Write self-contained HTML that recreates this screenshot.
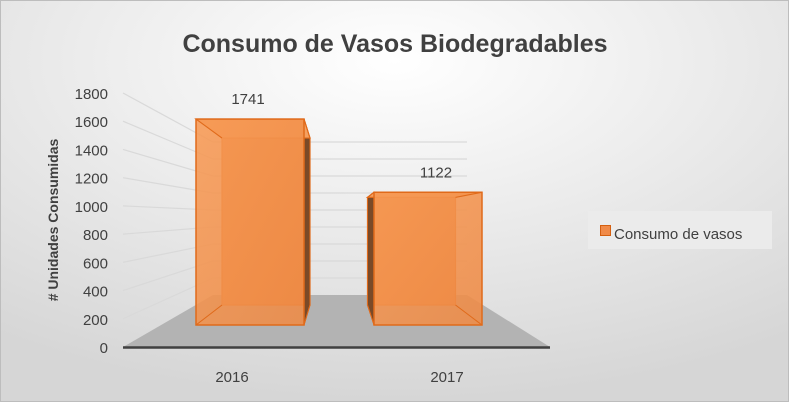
<!DOCTYPE html>
<html><head><meta charset="utf-8"><style>
html,body{margin:0;padding:0;width:789px;height:402px;overflow:hidden}
svg{display:block;font-family:"Liberation Sans",sans-serif}
</style></head><body>
<svg id="chart" width="789" height="402" viewBox="0 0 789 402">
<defs>
<radialGradient id="bg" cx="50%" cy="15%" r="85%">
<stop offset="0" stop-color="#ffffff"/><stop offset="1" stop-color="#d6d6d6"/></radialGradient>
<linearGradient id="front" x1="0" y1="0" x2="1" y2="1">
<stop offset="0" stop-color="#f79a55"/><stop offset="1" stop-color="#ee8a45"/></linearGradient>
</defs>
<rect x="0.5" y="0.5" width="788" height="401" fill="url(#bg)" stroke="#bdbdbd"/>
<text x="395" y="52" text-anchor="middle" font-size="25" font-weight="bold" fill="#404040">Consumo de Vasos Biodegradables</text>
<text transform="translate(58,220) rotate(-90)" text-anchor="middle" font-size="14" font-weight="bold" fill="#404040"># Unidades Consumidas</text>
<polygon points="123,347 213,295 467,295 550,347" fill="#b3b3b3"/>
<g id="grid"></g>
<g id="bars"></g>
<line x1="123" y1="347.5" x2="550" y2="347.5" stroke="#404040" stroke-width="2.5"/>
<g id="labels"></g>
<rect x="588" y="211" width="184" height="38" fill="#ebebeb"/>
<rect x="600.5" y="225.5" width="10" height="10" fill="#f08a48" stroke="#d45f10"/>
<text x="614" y="239" font-size="15" fill="#404040">Consumo de vasos</text>
</svg>
<script>
const categories = ["2016", "2017"];
const values = [1741, 1122];
const tickValues = [0, 200, 400, 600, 800, 1000, 1200, 1400, 1600, 1800];
const NS = "http://www.w3.org/2000/svg";
function mk(tag, attrs, parent){const e=document.createElementNS(NS,tag);for(const k in attrs)e.setAttribute(k,attrs[k]);parent.appendChild(e);return e;}
const yMax = 1800;
// axis functions
const yTick = v => 347 - v/yMax*254;      // left tick position
const yBack = v => 295 - v/yMax*153;      // back wall
const yBarFront = v => 325 - v*0.1183;
const yBarBack = v => 305 - v*0.0959;
const frontCx = i => 250 + i*178;
const backCx = i => 266 + i*145.5;
const grid = document.getElementById('grid');
const labels = document.getElementById('labels');
tickValues.forEach(v=>{
  if(v>0){
    const l1=mk('line',{x1:123,y1:yTick(v),x2:213,y2:yBack(v),stroke:'#d9d9d9','stroke-width':1.2},grid);
    
    
    const l2=mk('line',{x1:213,y1:yBack(v),x2:467,y2:yBack(v),stroke:'#d9d9d9','stroke-width':1.2},grid);
    
    
  }
  const t=mk('text',{x:108,y:yTick(v)+6,'text-anchor':'end','font-size':15,fill:'#404040'},labels);
  t.textContent=v;
  
  
});
const bars=document.getElementById('bars');
values.forEach((v,i)=>{
  const g=mk('g',{},bars);
  
  
  const fx1=frontCx(i)-54, fx2=frontCx(i)+54, fy1=yBarFront(v), fy2=yBarFront(0);
  const bx1=backCx(i)-44, bx2=backCx(i)+44, by1=yBarBack(v), by2=yBarBack(0);
  const edge='#e06a1a';
  mk('rect',{x:bx1,y:by1,width:bx2-bx1,height:by2-by1,fill:'#e8843f',stroke:edge,'stroke-width':1.2},g);
  // side face (darker)
  const sx = i===0 ? [fx2,bx2] : [fx1,bx1];
  mk('polygon',{points:`${sx[0]},${fy1} ${sx[1]},${by1} ${sx[1]},${by2} ${sx[0]},${fy2}`,fill:'#7a4a28',stroke:edge,'stroke-width':1},g);
  mk('polygon',{points:`${fx1},${fy1} ${fx2},${fy1} ${bx2},${by1} ${bx1},${by1}`,fill:'#f5a060',stroke:edge,'stroke-width':1.2},g);
  mk('rect',{x:fx1,y:fy1,width:fx2-fx1,height:fy2-fy1,fill:'url(#front)','fill-opacity':0.88,stroke:edge,'stroke-width':1.5},g);
  mk('line',{x1:fx1,y1:fy1,x2:bx1,y2:by1,stroke:edge,'stroke-width':1},g);
  mk('line',{x1:fx2,y1:fy1,x2:bx2,y2:by1,stroke:edge,'stroke-width':1},g);
  mk('line',{x1:fx1,y1:fy2,x2:bx1,y2:by2,stroke:edge,'stroke-width':1},g);
  mk('line',{x1:fx2,y1:fy2,x2:bx2,y2:by2,stroke:edge,'stroke-width':1},g);
  const vl=mk('text',{x:frontCx(i)-2+i*10,y:fy1-15,'text-anchor':'middle','font-size':15,fill:'#404040'},labels);
  vl.textContent=v;
  
  
  const cl=mk('text',{x:232+i*215,y:382,'text-anchor':'middle','font-size':15,fill:'#404040'},labels);
  cl.textContent=categories[i];
  
  
});
</script>
</body></html>
